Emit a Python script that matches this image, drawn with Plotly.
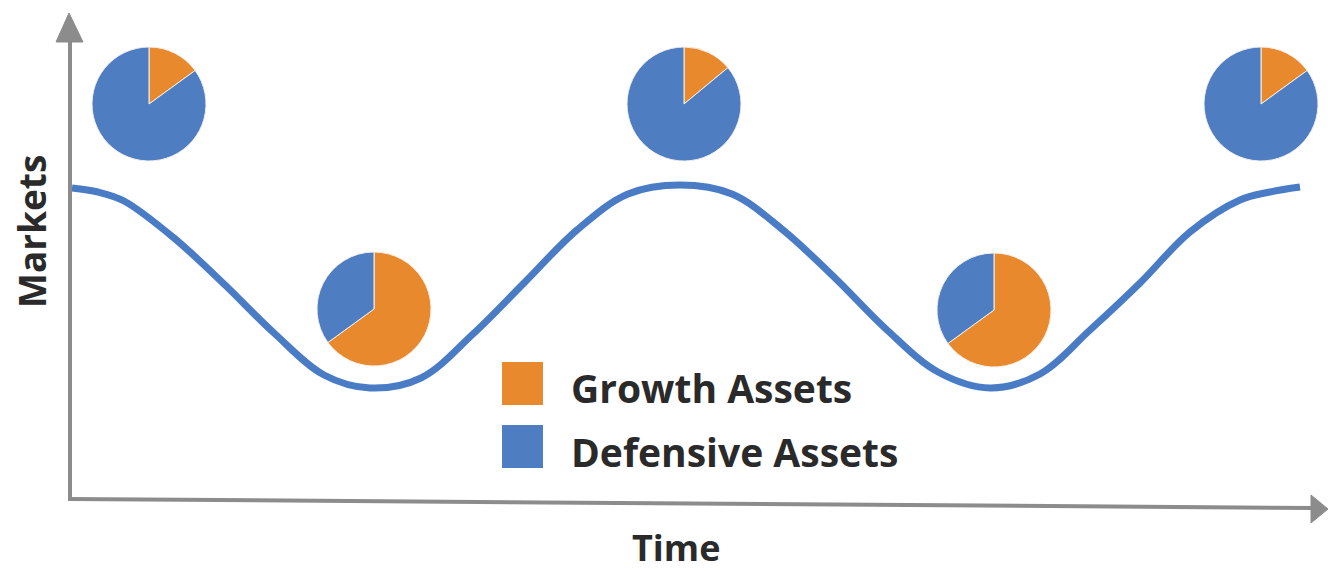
import plotly.graph_objects as go

W, H = 1328, 571

# Market cycle curve (time units, market level units)
time_pts = [3, 29, 55, 105, 155, 205, 255, 301, 352, 404, 456, 508, 559, 611,
            663, 714, 766, 818, 869, 921, 971, 1021, 1071, 1121, 1171, 1201, 1231]
market_pts = [309, 305, 296, 259, 213, 164, 122, 109, 119, 163, 215, 267, 303, 312,
              303, 267, 219, 167, 125, 109, 123, 167, 214, 265, 297, 305, 310]

# Asset mix in each pie (percent)
mix_labels = ["Growth Assets", "Defensive Assets"]
growth_share = [15, 65, 14, 65, 15]
defensive_share = [85, 35, 86, 35, 85]

# Axis labels
x_title = "Time"
y_title = "Markets"

# ---- layout / style (pixels) ----
ORANGE = "#e8892e"
BLUE = "#4e7dc2"
LINE_BLUE = "#4a7cc6"
GREY = "#8c8c8c"
TEXT = "#2a2a2a"
FONT = "Open Sans"

pie_centers = [(149, 104), (374, 309), (684, 104), (994, 310), (1261, 104)]
pie_r = 57

plot_x_px = (69, 1325)
plot_y_px = (497, 15)


def px(x):
    return x / W


def py(y):
    return 1 - y / H


fig = go.Figure()

fig.add_trace(go.Scatter(
    x=time_pts, y=market_pts, mode="lines",
    line=dict(color=LINE_BLUE, width=7, shape="spline", smoothing=1.0),
    hoverinfo="skip", showlegend=False,
))

for (cx, cy), g, d in zip(pie_centers, growth_share, defensive_share):
    fig.add_trace(go.Pie(
        labels=mix_labels, values=[g, d],
        sort=False, direction="clockwise", rotation=0,
        marker=dict(colors=[ORANGE, BLUE], line=dict(color="#f4efe8", width=1)),
        textinfo="none", hoverinfo="skip", showlegend=False,
        domain=dict(x=[px(cx - pie_r), px(cx + pie_r)],
                    y=[py(cy + pie_r), py(cy - pie_r)]),
    ))

shapes = []
# y axis
shapes.append(dict(type="line", xref="paper", yref="paper",
                   x0=px(70), y0=py(499), x1=px(70), y1=py(38),
                   line=dict(color=GREY, width=4)))
shapes.append(dict(type="path", xref="paper", yref="paper",
                   path=f"M {px(69)},{py(13)} L {px(56)},{py(42)} L {px(83)},{py(42)} Z",
                   fillcolor=GREY, line=dict(color=GREY, width=1)))
# x axis
shapes.append(dict(type="line", xref="paper", yref="paper",
                   x0=px(68), y0=py(499), x1=px(1314), y1=py(508),
                   line=dict(color=GREY, width=4)))
shapes.append(dict(type="path", xref="paper", yref="paper",
                   path=f"M {px(1328)},{py(509)} L {px(1311)},{py(495)} L {px(1311)},{py(523)} Z",
                   fillcolor=GREY, line=dict(color=GREY, width=1)))
# legend swatches
shapes.append(dict(type="rect", xref="paper", yref="paper",
                   x0=px(502), y0=py(405), x1=px(543), y1=py(362),
                   fillcolor=ORANGE, line=dict(width=0)))
shapes.append(dict(type="rect", xref="paper", yref="paper",
                   x0=px(502), y0=py(468), x1=px(543), y1=py(425),
                   fillcolor=BLUE, line=dict(width=0)))

legend_font = dict(family=FONT, size=39, color=TEXT, weight=700)
annotations = [
    dict(text=mix_labels[0], x=px(569), y=py(387), xref="paper", yref="paper",
         xanchor="left", yanchor="middle", showarrow=False, font=legend_font),
    dict(text=mix_labels[1], x=px(569), y=py(451), xref="paper", yref="paper",
         xanchor="left", yanchor="middle", showarrow=False, font=legend_font),
    dict(text=y_title, x=px(31), y=py(232), xref="paper", yref="paper",
         xanchor="center", yanchor="middle", textangle=-90, showarrow=False,
         font=dict(family=FONT, size=37, color=TEXT, weight=700)),
    dict(text=x_title, x=px(676), y=py(547), xref="paper", yref="paper",
         xanchor="center", yanchor="middle", showarrow=False,
         font=dict(family=FONT, size=36, color=TEXT, weight=700)),
]

fig.update_layout(
    width=W, height=H,
    margin=dict(l=0, r=0, t=0, b=0),
    paper_bgcolor="white", plot_bgcolor="white",
    xaxis=dict(domain=[px(plot_x_px[0]), px(plot_x_px[1])],
               range=[0, plot_x_px[1] - plot_x_px[0]], visible=False, fixedrange=True),
    yaxis=dict(domain=[py(plot_y_px[0]), py(plot_y_px[1])],
               range=[0, plot_y_px[0] - plot_y_px[1]], visible=False, fixedrange=True),
    shapes=shapes, annotations=annotations,
    showlegend=False,
)

fig.write_html("out.html", config={"displayModeBar": False},
               post_script="document.body.style.margin='0';document.body.style.overflow='hidden';")
